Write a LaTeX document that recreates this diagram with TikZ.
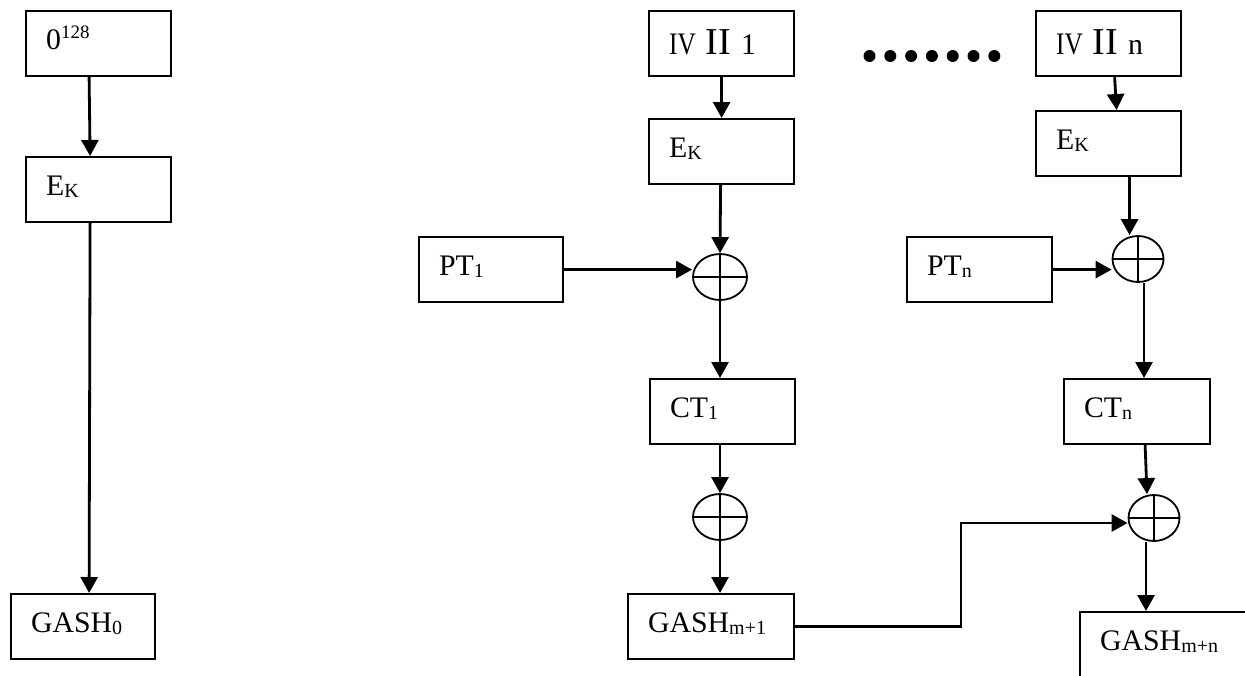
\documentclass[tikz,border=0pt]{standalone}
\usepackage{fontspec}
\setmainfont{Liberation Serif}
\usetikzlibrary{arrows.meta,shapes.geometric}
% lowered and raised index text
\newcommand\lowtxt[1]{\raisebox{-1.25pt}{\fontsize{10pt}{10pt}\selectfont #1}}
\newcommand\hightxt[1]{\raisebox{5.5pt}{\fontsize{9.5pt}{9.5pt}\selectfont #1}}
\newcommand\bigII{{\fontsize{19pt}{19pt}\selectfont II}}
\newcommand\narrowIV{\scalebox{0.85}[1.05]{IV}}
\begin{document}
\begin{tikzpicture}[x=0.5pt,y=-0.5pt,
  box/.style={draw, line width=1.1pt, anchor=north west, inner xsep=0pt, inner ysep=0pt,
    text width=#1, align=left, text height=19pt, text depth=13.5pt,
    font=\fontsize{14.9pt}{17pt}\selectfont, execute at begin node={\hspace*{10pt}}},
  box/.default=72.5pt,
  ivbox/.style={box, text height=21.5pt, text depth=11pt},
  xor/.style={ellipse, draw, line width=0.9pt, minimum width=27pt, minimum height=23pt,
    inner sep=0pt,
    path picture={\draw[line width=0.9pt]
      (path picture bounding box.north) -- (path picture bounding box.south)
      (path picture bounding box.west) -- (path picture bounding box.east);}},
  conn/.style={line width=1.4pt, -{Triangle[width=8.5pt,length=8pt]}}]
\useasboundingbox (0,0) rectangle (1245,675);
\clip (0,0) rectangle (1245,675);

% initial hash column
\node[box] (zero) at (25,10) {0\hightxt{128}};
\node[box] (ekL) at (25,156) {E\lowtxt{K}};
\node[box=72pt] (gash0) at (10,593) {GASH\lowtxt{0}};

% first block
\node[ivbox] (iv1) at (648,10) {\narrowIV\ \bigII\ 1};
\node[box] (ek1) at (648,118) {E\lowtxt{K}};
\node[xor] (x1) at (720,277) {};
\node[box=72pt] (pt1) at (418,236) {PT\lowtxt{1}};
\node[box] (ct1) at (649,378) {CT\lowtxt{1}};
\node[xor] (x2) at (720,517) {};
\node[box=83pt] (gm1) at (627,593) {GASH\lowtxt{m+1}};
\coordinate (turn) at (961,523);

% ellipsis between blocks
\foreach \i in {0,...,6} \fill (869.5+20.8*\i,56) circle (3pt);

% last block
\node[ivbox] (ivn) at (1035,10) {\narrowIV\ \bigII\ n};
\node[box] (ekn) at (1035,110) {E\lowtxt{K}};
\node[xor, minimum width=25.5pt] (xn1) at (1138,259) {};
\node[box] (ptn) at (906,236) {PT\lowtxt{n}};
\node[box=73pt] (ctn) at (1063,378) {CT\lowtxt{n}};
\node[xor, minimum width=25.5pt] (xn2) at (1154,518) {};
\node[box=87.5pt, text depth=16pt] (gmn) at (1079,611) {GASH\lowtxt{m+n}};

% connectors
\draw[conn] ([xshift=-4.75pt]zero.south) -- ([xshift=-4.25pt]ekL.north);
\draw[conn] ([xshift=-4.25pt]ekL.south) -- ([xshift=3pt]gash0.north);

\draw[conn] (iv1.south) -- (ek1.north);
\draw[conn] ([xshift=-0.5pt]ek1.south) -- (x1.north);
\draw[conn] (pt1.east) -- (pt1.east -| x1.west);
\draw[conn] (x1.south) -- (x1.south |- ct1.north);
\draw[conn] (ct1.south -| x2.north) -- (x2.north);
\draw[conn] (x2.south) -- (x2.south |- gm1.north);
\draw[conn] (gm1.east) -| (turn) -- (turn -| xn2.west);

\draw[conn] ([xshift=3pt]ivn.south) -- ([xshift=4pt]ekn.north);
\draw[conn] ([xshift=10.5pt]ekn.south) -- ([xshift=10.5pt]ekn.south |- xn1.north);
\draw[conn] (ptn.east) -- (ptn.east -| xn1.west);
\draw[conn] ([xshift=3pt]xn1.south) -- ([xshift=3pt]xn1.south |- ctn.north);
\draw[conn] ([xshift=4pt]ctn.south) -- ([xshift=-3.5pt]xn2.north);
\draw[conn] ([xshift=-4pt]xn2.south) -- ([xshift=-4pt]xn2.south |- gmn.north);
\end{tikzpicture}
\end{document}
